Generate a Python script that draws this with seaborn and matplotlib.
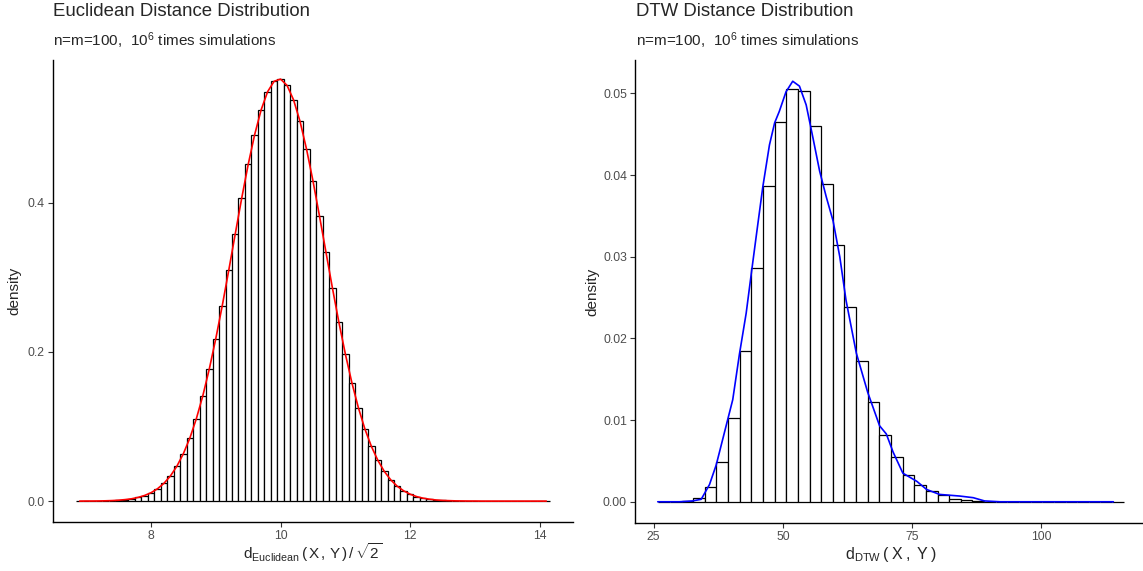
import numpy as np
import pandas as pd
import matplotlib
matplotlib.use('Agg')
import matplotlib.pyplot as plt
import seaborn as sns

sns.set_theme(style='ticks')
plt.rcParams['font.family'] = ['Liberation Sans', 'DejaVu Sans']
plt.rcParams['mathtext.fontset'] = 'custom'
plt.rcParams['mathtext.rm'] = 'Liberation Sans'
plt.rcParams['mathtext.it'] = 'Liberation Sans:italic'

# Euclidean histogram: binwidth 0.1, density per bin
euc_bin_start = 6.85
euc_binwidth = 0.1
euc_density = [
    0.0000, 0.0001, 0.0001, 0.0002, 0.0004, 0.0007, 0.0012, 0.0020, 0.0031, 0.0049,
    0.0075, 0.0112, 0.0165, 0.0238, 0.0337, 0.0468, 0.0636, 0.0845, 0.1104, 0.1412,
    0.1771, 0.2177, 0.2619, 0.3092, 0.3579, 0.4059, 0.4510, 0.4911, 0.5243, 0.5486,
    0.5625, 0.5654, 0.5569, 0.5376, 0.5087, 0.4717, 0.4288, 0.3820, 0.3335, 0.2854,
    0.2393, 0.1968, 0.1586, 0.1252, 0.0968, 0.0735, 0.0547, 0.0398, 0.0284, 0.0199,
    0.0137, 0.0092, 0.0060, 0.0039, 0.0025, 0.0015, 0.0009, 0.0006, 0.0003, 0.0002,
    0.0001, 0.0001, 0.0000, 0.0000, 0.0000, 0.0000, 0.0000, 0.0000, 0.0000, 0.0000,
    0.0000, 0.0000, 0.0000,
]

# DTW histogram: 40 bins
dtw_bin_start = 25.9
dtw_binwidth = 2.25
dtw_density = [
    0.0000, 0.0000, 0.0001, 0.0005, 0.0018, 0.0049, 0.0103, 0.0185, 0.0286, 0.0387,
    0.0465, 0.0506, 0.0503, 0.0460, 0.0389, 0.0314, 0.0238, 0.0173, 0.0122, 0.0082,
    0.0055, 0.0033, 0.0021, 0.0013, 0.0008, 0.0004, 0.0002, 0.0001, 0.0000, 0.0000,
    0.0000, 0.0000, 0.0000, 0.0000, 0.0000, 0.0000, 0.0000, 0.0000, 0.0000, 0.0000,
]

# DTW density curve
dtw_curve_x = [25.8, 30.0, 32.5, 34.2, 35.8, 37.1, 38.7, 40.3, 41.6, 42.9,
               43.9, 44.9, 46.1, 47.4, 48.4, 49.3, 50.6, 51.9, 53.2, 54.5,
               55.8, 57.1, 58.4, 59.7, 61.0, 62.2, 64.2, 66.4, 68.7, 70.0,
               71.3, 73.2, 75.9, 77.8, 80.3, 84.2, 86.8, 89.0, 92.0, 113.9]
dtw_curve_y = [0.0, 0.0, 0.0001, 0.0003, 0.0021, 0.0045, 0.0085, 0.0125, 0.0181, 0.0231,
               0.0280, 0.0328, 0.0385, 0.0437, 0.0464, 0.0478, 0.0502, 0.0515, 0.0509, 0.0486,
               0.0446, 0.0405, 0.0373, 0.0344, 0.0300, 0.0247, 0.0182, 0.0134, 0.0093, 0.0083,
               0.0061, 0.0035, 0.0025, 0.0015, 0.0009, 0.0007, 0.0005, 0.0001, 0.0, 0.0]

euc_edges = euc_bin_start + euc_binwidth * np.arange(len(euc_density) + 1)
dtw_edges = dtw_bin_start + dtw_binwidth * np.arange(len(dtw_density) + 1)
euc = pd.DataFrame({'x': euc_edges[:-1] + euc_binwidth / 2, 'density': euc_density})
dtw = pd.DataFrame({'x': dtw_edges[:-1] + dtw_binwidth / 2, 'density': dtw_density})
dtw_curve = pd.DataFrame({'x': dtw_curve_x, 'density': dtw_curve_y})

W, H = 1143, 571
fig = plt.figure(figsize=(W / 100, H / 100), dpi=100)
ax1 = fig.add_axes([52.8 / W, 49 / H, 520.4 / W, 462 / H])
ax2 = fig.add_axes([635 / W, 48 / H, 513 / W, 463 / H])

sns.histplot(data=euc, x='x', weights='density', bins=list(euc_edges), ax=ax1,
             color='white', edgecolor='black', linewidth=0.9, alpha=1)
sns.lineplot(data=euc, x='x', y='density', ax=ax1, color='red', linewidth=1.2)

sns.histplot(data=dtw, x='x', weights='density', bins=list(dtw_edges), ax=ax2,
             color='white', edgecolor='black', linewidth=0.9, alpha=1)
sns.lineplot(data=dtw_curve, x='x', y='density', ax=ax2, color='blue', linewidth=1.2)

ax1.set_xlim(6.485, 14.515)
ax1.set_ylim(-0.028, 0.591)
ax1.set_xticks([8, 10, 12, 14])
ax1.set_yticks([0.0, 0.2, 0.4])
ax1.set_yticklabels(['0.0', '0.2', '0.4'])

ax2.set_xlim(21.4, 120.6)
ax2.set_ylim(-0.0026, 0.0541)
ax2.set_xticks([25, 50, 75, 100])
ax2.set_yticks([0.0, 0.01, 0.02, 0.03, 0.04, 0.05])
ax2.set_yticklabels(['0.00', '0.01', '0.02', '0.03', '0.04', '0.05'])

for ax in (ax1, ax2):
    sns.despine(ax=ax)
    for s in ('left', 'bottom'):
        ax.spines[s].set_color('black')
        ax.spines[s].set_linewidth(1.0)
    ax.tick_params(length=3.8, width=0.8, color='#333333', labelsize=8.8,
                   labelcolor='#4D4D4D', pad=2)
    ax.set_ylabel('density', fontsize=11)

ax1.set_xlabel(r'$\mathrm{d_{Euclidean}\,(\,X\,,\,Y\,)\,/\,\sqrt{2}}$', fontsize=11, va='center')
ax2.set_xlabel(r'$\mathrm{d_{DTW}\,(\;X\;,\;Y\;)}$', fontsize=11.5, va='center')
ax1.xaxis.set_label_coords(0.5, -0.067)
ax2.xaxis.set_label_coords(0.5, -0.069)
ax1.yaxis.set_label_coords(-0.061, 0.5)
ax2.yaxis.set_label_coords(-0.070, 0.5)

sub = r'n=m=100,  10$^{6}$ times simulations'
fig.text(53 / W, 1 - 12 / H, 'Euclidean Distance Distribution', fontsize=13.4, va='center')
fig.text(53 / W, 1 - 41 / H, sub, fontsize=11, va='center')
fig.text(636 / W, 1 - 12 / H, 'DTW Distance Distribution', fontsize=13.4, va='center')
fig.text(636 / W, 1 - 41 / H, sub, fontsize=11, va='center')

fig.savefig('out.png', dpi=100)
